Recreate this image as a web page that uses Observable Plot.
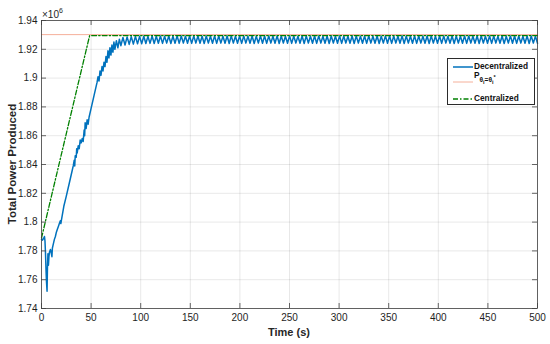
<!DOCTYPE html>
<html><head><meta charset="utf-8">
<script src="https://cdn.jsdelivr.net/npm/d3@7"></script>
<script src="https://cdn.jsdelivr.net/npm/@observablehq/plot@0.6"></script>
<style>
body{margin:0;background:#fff;font-family:"Liberation Sans",Arial,sans-serif;}
#wrap{position:relative;width:550px;height:344px;overflow:hidden;}
.lbl{position:absolute;color:#262626;white-space:nowrap;}
#xlabel{left:289px;top:332px;transform:translate(-50%,-50%);font-weight:bold;font-size:11px;}
#ylabel{left:12px;top:164px;transform:translate(-50%,-50%) rotate(-90deg);font-weight:bold;font-size:11.5px;}
#expo{left:42px;top:8px;font-size:10px;}
#expo sup{font-size:7px;position:relative;top:-1px;}
#legend{position:absolute;left:447px;top:58px;width:88px;height:47px;box-sizing:border-box;border:1px solid #2b2b2b;background:#fff;font-weight:bold;font-size:8.3px;color:#111;}
#legend svg{position:absolute;left:5px;}
#legend .t{position:absolute;left:26px;}
</style></head><body><div id="wrap"></div>
<script>
// Time axis ticks and power axis ticks (power in units of 10^6)
const xTicks = [0, 50, 100, 150, 200, 250, 300, 350, 400, 450, 500];
const yTicks = [1.74, 1.76, 1.78, 1.8, 1.82, 1.84, 1.86, 1.88, 1.9, 1.92, 1.94];

// Decentralized: transient part
const decTransTime = [0,1,2,2.5,3,3.5,4,4.5,5,5.6,6,6.5,7,7.5,8,9,10,10.5,11,12,13,14,15,16,17,18,19,19.5,20,22.5,25,28,31,32,33,33.5,34,35,35.5,36,37,38,39,40,41,42,43,43.5,44,45,46,47,48,50,53,56,57,58,59,60,61,62,63,64,65,66,67,68,69,70,71,72,73,74,75.5,77,78.5];
const decTransPower = [1.788,1.7875,1.789,1.7885,1.790,1.787,1.779,1.768,1.759,1.752,1.768,1.778,1.770,1.776,1.779,1.781,1.778,1.776,1.782,1.785,1.788,1.790,1.793,1.795,1.797,1.799,1.801,1.799,1.801,1.811,1.818,1.827,1.836,1.839,1.843,1.839,1.846,1.845,1.851,1.848,1.853,1.851,1.857,1.855,1.858,1.856,1.864,1.860,1.869,1.865,1.871,1.868,1.873,1.879,1.888,1.897,1.901,1.898,1.905,1.902,1.908,1.905,1.911,1.908,1.915,1.911,1.919,1.914,1.921,1.916,1.923,1.918,1.925,1.920,1.926,1.921,1.927];

// Decentralized: steady oscillation part
const decOscTime = [
80,82.1,84.2,86.3,88.4,90.5,92.6,94.7,96.8,98.9,
101,103.1,105.2,107.3,109.4,111.5,113.6,115.7,117.8,119.9,
122,124.1,126.2,128.3,130.4,132.5,134.6,136.7,138.8,140.9,
143,145.1,147.2,149.3,151.4,153.5,155.6,157.7,159.8,161.9,
164,166.1,168.2,170.3,172.4,174.5,176.6,178.7,180.8,182.9,
185,187.1,189.2,191.3,193.4,195.5,197.6,199.7,201.8,203.9,
206,208.1,210.2,212.3,214.4,216.5,218.6,220.7,222.8,224.9,
227,229.1,231.2,233.3,235.4,237.5,239.6,241.7,243.8,245.9,
248,250.1,252.2,254.3,256.4,258.5,260.6,262.7,264.8,266.9,
269,271.1,273.2,275.3,277.4,279.5,281.6,283.7,285.8,287.9,
290,292.1,294.2,296.3,298.4,300.5,302.6,304.7,306.8,308.9,
311,313.1,315.2,317.3,319.4,321.5,323.6,325.7,327.8,329.9,
332,334.1,336.2,338.3,340.4,342.5,344.6,346.7,348.8,350.9,
353,355.1,357.2,359.3,361.4,363.5,365.6,367.7,369.8,371.9,
374,376.1,378.2,380.3,382.4,384.5,386.6,388.7,390.8,392.9,
395,397.1,399.2,401.3,403.4,405.5,407.6,409.7,411.8,413.9,
416,418.1,420.2,422.3,424.4,426.5,428.6,430.7,432.8,434.9,
437,439.1,441.2,443.3,445.4,447.5,449.6,451.7,453.8,455.9,
458,460.1,462.2,464.3,466.4,468.5,470.6,472.7,474.8,476.9,
479,481.1,483.2,485.3,487.4,489.5,491.6,493.7,495.8,497.9,
500];
const decOscPower = [
1.9225,1.9282,1.9230,1.9286,1.9234,1.9288,1.9236,1.9290,1.9238,1.9290,
1.9239,1.9291,1.9240,1.9290,1.9241,1.9292,1.9240,1.9291,1.9242,1.9292,
1.9241,1.9291,1.9243,1.9292,1.9240,1.9291,1.9242,1.9293,1.9241,1.9292,
1.9243,1.9291,1.9242,1.9292,1.9241,1.9293,1.9243,1.9292,1.9242,1.9291,
1.9240,1.9292,1.9243,1.9291,1.9242,1.9293,1.9241,1.9292,1.9243,1.9291,
1.9242,1.9292,1.9240,1.9293,1.9243,1.9291,1.9242,1.9292,1.9241,1.9293,
1.9243,1.9291,1.9242,1.9292,1.9240,1.9291,1.9243,1.9293,1.9242,1.9292,
1.9241,1.9292,1.9243,1.9291,1.9242,1.9293,1.9240,1.9292,1.9243,1.9291,
1.9242,1.9293,1.9241,1.9292,1.9243,1.9291,1.9242,1.9292,1.9240,1.9293,
1.9243,1.9291,1.9242,1.9292,1.9241,1.9293,1.9243,1.9291,1.9242,1.9292,
1.9240,1.9292,1.9243,1.9291,1.9242,1.9293,1.9241,1.9292,1.9243,1.9291,
1.9242,1.9292,1.9240,1.9293,1.9243,1.9291,1.9242,1.9292,1.9241,1.9293,
1.9243,1.9291,1.9242,1.9292,1.9240,1.9291,1.9243,1.9293,1.9242,1.9292,
1.9241,1.9292,1.9243,1.9291,1.9242,1.9293,1.9240,1.9292,1.9243,1.9291,
1.9242,1.9293,1.9241,1.9292,1.9243,1.9291,1.9242,1.9292,1.9240,1.9293,
1.9243,1.9291,1.9242,1.9292,1.9241,1.9293,1.9243,1.9291,1.9242,1.9292,
1.9240,1.9292,1.9243,1.9291,1.9242,1.9293,1.9241,1.9292,1.9243,1.9291,
1.9242,1.9292,1.9240,1.9293,1.9243,1.9291,1.9242,1.9292,1.9241,1.9293,
1.9243,1.9291,1.9242,1.9292,1.9240,1.9291,1.9243,1.9293,1.9242,1.9292,
1.9241,1.9292,1.9243,1.9291,1.9242,1.9293,1.9240,1.9292,1.9243,1.9291,
1.9242];

// Reference optimum P_{theta_i = theta_i^*}
const refTime = [0, 500];
const refPower = [1.9302, 1.9302];

// Centralized
const centTime = [0, 48.5, 500];
const centPower = [1.789, 1.9295, 1.9295];

const seriesNames = ["Decentralized", "P", "Centralized"];
const colors = {dec: "#0072BD", ref: "#F5B09A", cent: "#008000"};

const decTime = decTransTime.concat(decOscTime);
const decPower = decTransPower.concat(decOscPower);
const dec = decTime.map((t, i) => ({t, p: decPower[i]}));
const ref = refTime.map((t, i) => ({t, p: refPower[i]}));
const cent = centTime.map((t, i) => ({t, p: centPower[i]}));

const W = 550, H = 344, mL = 41, mR = 13, mT = 20, mB = 36;
const ph = H - mT - mB, pw = W - mL - mR;
const axisColor = "#404040";
const fmtY = d3.format(".2~f");

const chart = Plot.plot({
  width: W, height: H,
  marginLeft: mL, marginRight: mR, marginTop: mT, marginBottom: mB,
  style: {fontFamily: "'Liberation Sans', Arial, sans-serif", fontSize: "10px", color: "#262626", background: "#fff"},
  x: {domain: [0, 500], label: null},
  y: {domain: [1.74, 1.94], label: null},
  marks: [
    Plot.gridX(xTicks, {stroke: "#000", strokeOpacity: 0.09}),
    Plot.gridY(yTicks, {stroke: "#000", strokeOpacity: 0.09}),
    Plot.line(dec, {x: "t", y: "p", stroke: colors.dec, strokeWidth: 1.5}),
    Plot.line(ref, {x: "t", y: "p", stroke: colors.ref, strokeWidth: 1}),
    Plot.line(cent, {x: "t", y: "p", stroke: colors.cent, strokeWidth: 1.3, strokeDasharray: "5,2,1.5,2"}),
    Plot.frame({stroke: axisColor, strokeWidth: 0.8}),
    // inward ticks on all four sides
    Plot.tickX(xTicks, {x: d => d, insetTop: ph - 5, stroke: axisColor, strokeWidth: 0.8}),
    Plot.tickX(xTicks, {x: d => d, insetBottom: ph - 5, stroke: axisColor, strokeWidth: 0.8}),
    Plot.tickY(yTicks, {y: d => d, insetRight: pw - 5, stroke: axisColor, strokeWidth: 0.8}),
    Plot.tickY(yTicks, {y: d => d, insetLeft: pw - 5, stroke: axisColor, strokeWidth: 0.8}),
    Plot.axisX(xTicks, {tickSize: 0, tickPadding: 5, tickFormat: d => String(d), label: null, fill: "#1e1e1e"}),
    Plot.axisY(yTicks, {tickSize: 0, tickPadding: 4, tickFormat: fmtY, label: null, fill: "#1e1e1e"})
  ]
});

const wrap = document.getElementById("wrap");
wrap.appendChild(chart);

function addLbl(id, html) {
  const d = document.createElement("div");
  d.className = "lbl"; d.id = id; d.innerHTML = html;
  wrap.appendChild(d);
}
addLbl("xlabel", "Time (s)");
addLbl("ylabel", "Total Power Produced");
addLbl("expo", "×10<sup>6</sup>");

// Legend
const leg = document.createElement("div");
leg.id = "legend";
const rows = [
  {top: 7.5, color: colors.dec, dash: null, w: 1.5, html: seriesNames[0], ty: 3},
  {top: 22.5, color: colors.ref, dash: null, w: 1, html: "P<sub style='font-size:6.5px;position:relative;top:1px;'>θ<sub style='font-size:5.5px'>i</sub>=θ<sub style='font-size:5.5px'>i</sub><sup style='font-size:5.5px'>*</sup></sub>", ty: 12},
  {top: 39.5, color: colors.cent, dash: "5,2,1.5,2", w: 1.3, html: seriesNames[2], ty: 34.5}
];
rows.forEach(r => {
  const s = document.createElementNS("http://www.w3.org/2000/svg", "svg");
  s.setAttribute("width", 20); s.setAttribute("height", 4);
  s.style.top = (r.top - 2) + "px";
  s.innerHTML = `<line x1="0" y1="2" x2="20" y2="2" stroke="${r.color}" stroke-width="${r.w}" ${r.dash ? `stroke-dasharray="${r.dash}"` : ""}/>`;
  leg.appendChild(s);
  const t = document.createElement("div");
  t.className = "t"; t.style.top = (r.ty - 1) + "px"; t.innerHTML = r.html;
  leg.appendChild(t);
});
wrap.appendChild(leg);
</script>
</body></html>
